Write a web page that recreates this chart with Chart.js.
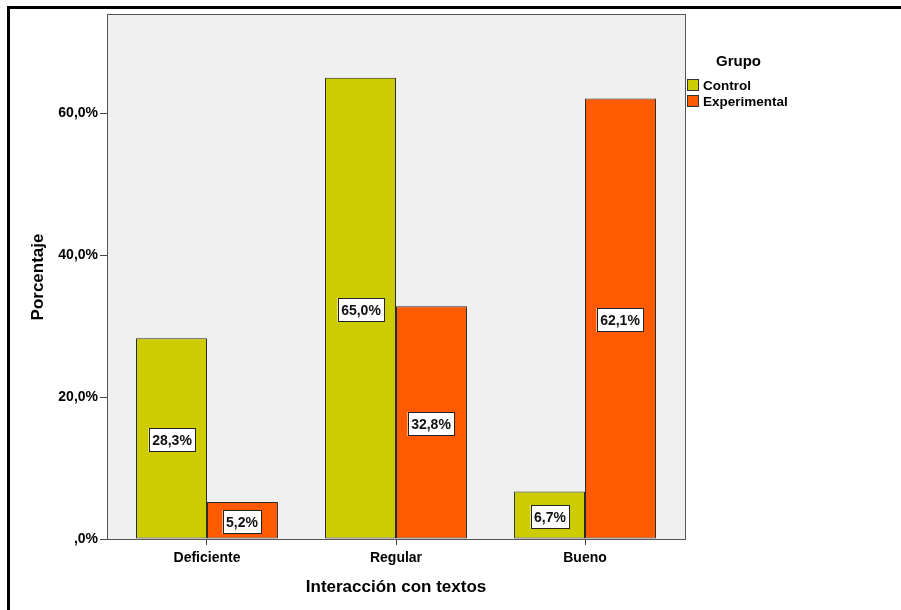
<!DOCTYPE html>
<html>
<head>
<meta charset="utf-8">
<title>Interacción con textos</title>
<script src="https://cdn.jsdelivr.net/npm/chart.js@4"></script>
<style>
  html, body { margin: 0; padding: 0; background: #fff; }
  #chart { display: block; }
</style>
</head>
<body>
<canvas id="chart" width="901" height="610"></canvas>
<script>
// ── Data ───────────────────────────────────────────────
const categories = ["Deficiente", "Regular", "Bueno"];
const controlValues = [28.3, 65.0, 6.7];
const experimentalValues = [5.2, 32.8, 62.1];
const seriesNames = ["Control", "Experimental"];
const yTicks = [0, 20, 40, 60];

const FONT = "'Liberation Sans', Arial, sans-serif";
const fmtPct = (v) => (v === 0 ? ",0%" : v.toFixed(1).replace(".", ",") + "%");

// ── Plugins ────────────────────────────────────────────

// plot background, frame, outer border, titles and legend
const framePlugin = {
  id: "frame",
  beforeDraw(chart) {
    const { ctx, chartArea: a } = chart;
    ctx.save();
    ctx.fillStyle = "#fff";
    ctx.fillRect(0, 0, chart.width, chart.height);
    ctx.fillStyle = "#f0f0f0";
    ctx.fillRect(a.left, a.top, a.right - a.left, a.bottom - a.top);
    ctx.restore();
  },
  afterDraw(chart) {
    const { ctx, chartArea: a } = chart;
    ctx.save();
    ctx.strokeStyle = "#555";
    ctx.lineWidth = 1;
    ctx.strokeRect(a.left + 0.5, a.top + 0.5, a.right - a.left, a.bottom - a.top);
    // outer border (only top and left visible)
    ctx.strokeStyle = "#000";
    ctx.lineWidth = 3;
    ctx.beginPath();
    ctx.moveTo(chart.width, 7.5);
    ctx.lineTo(8.5, 7.5);
    ctx.lineTo(8.5, chart.height);
    ctx.stroke();

    // axis titles
    ctx.fillStyle = "#000";
    ctx.font = "bold 17px " + FONT;
    ctx.textAlign = "center";
    ctx.textBaseline = "middle";
    ctx.fillText("Interacción con textos", 396, 587);
    ctx.translate(38, 277);
    ctx.rotate(-Math.PI / 2);
    ctx.fillText("Porcentaje", 0, 0);
    ctx.restore();

    // legend
    ctx.save();
    ctx.font = "bold 15px " + FONT;
    ctx.fillStyle = "#000";
    ctx.textAlign = "left";
    ctx.textBaseline = "middle";
    ctx.fillText("Grupo", 716, 62);
    chart.data.datasets.forEach((ds, i) => {
      const y = 79 + i * 16;
      ctx.fillStyle = ds.backgroundColor;
      ctx.fillRect(687, y, 12, 12);
      ctx.strokeStyle = "#333";
      ctx.lineWidth = 1;
      ctx.strokeRect(687.5, y + 0.5, 11, 11);
      ctx.fillStyle = "#000";
      ctx.font = "bold 13.5px " + FONT;
      ctx.fillText(ds.label, 703, y + 7);
    });
    ctx.restore();
  },
};

// value labels in white boxes at bar middle
const valueLabelPlugin = {
  id: "valueLabels",
  afterDatasetsDraw(chart) {
    const { ctx } = chart;
    ctx.save();
    ctx.font = "bold 14px " + FONT;
    ctx.textAlign = "center";
    ctx.textBaseline = "middle";
    chart.data.datasets.forEach((ds, di) => {
      chart.getDatasetMeta(di).data.forEach((bar, i) => {
        const text = fmtPct(ds.data[i]);
        const w = Math.round(ctx.measureText(text).width) + 7;
        const h = 24;
        const cx = Math.round(bar.x);
        const cy = Math.round((bar.y + bar.base) / 2) + 2;
        ctx.fillStyle = "#fff";
        ctx.fillRect(cx - w / 2, cy - h / 2, w, h);
        ctx.strokeStyle = "#222";
        ctx.lineWidth = 1;
        ctx.strokeRect(Math.round(cx - w / 2) + 0.5, cy - h / 2 + 0.5, w - 1, h - 1);
        ctx.fillStyle = "#111";
        ctx.fillText(text, cx, cy + 1);
      });
    });
    ctx.restore();
  },
};

// ── Chart ──────────────────────────────────────────────

new Chart(document.getElementById("chart").getContext("2d"), {
  type: "bar",
  data: {
    labels: categories,
    datasets: [
      {
        label: seriesNames[0],
        data: controlValues,
        backgroundColor: "#cccc00",
        borderColor: "#2a2a2a",
        borderWidth: 1,
        borderSkipped: false,
      },
      {
        label: seriesNames[1],
        data: experimentalValues,
        backgroundColor: "#ff5a00",
        borderColor: "#2a2a2a",
        borderWidth: 1,
        borderSkipped: false,
      },
    ],
  },
  options: {
    responsive: false,
    animation: false,
    devicePixelRatio: 1,
    layout: { padding: { left: 0, top: 14, right: 216, bottom: 0 } },
    plugins: {
      legend: { display: false },
      tooltip: { enabled: false },
    },
    datasets: {
      bar: { categoryPercentage: 0.751, barPercentage: 1.0 },
    },
    scales: {
      x: {
        afterFit: (s) => { s.height = 71; },
        // wider end margins than the default half-category offset
        afterBuildTicks: (s) => {
          s._startValue = -0.529;
          s._valueRange = 3.058;
        },
        grid: { offset: false, drawOnChartArea: false, drawTicks: true, tickLength: 6, color: "#444" },
        border: { display: true, color: "#444" },
        ticks: {
          color: "#000",
          font: { family: FONT, size: 14, weight: "bold" },
          padding: 5,
        },
      },
      y: {
        min: 0,
        max: 74,
        afterFit: (s) => { s.width = 107; },
        afterBuildTicks: (s) => { s.ticks = yTicks.map((v) => ({ value: v })); },
        grid: { drawOnChartArea: false, drawTicks: true, tickLength: 7, color: "#444" },
        border: { display: true, color: "#444" },
        ticks: {
          color: "#000",
          font: { family: FONT, size: 14, weight: "bold" },
          padding: 2,
          callback: (v) => fmtPct(v),
        },
      },
    },
  },
  plugins: [framePlugin, valueLabelPlugin],
});
</script>
</body>
</html>
